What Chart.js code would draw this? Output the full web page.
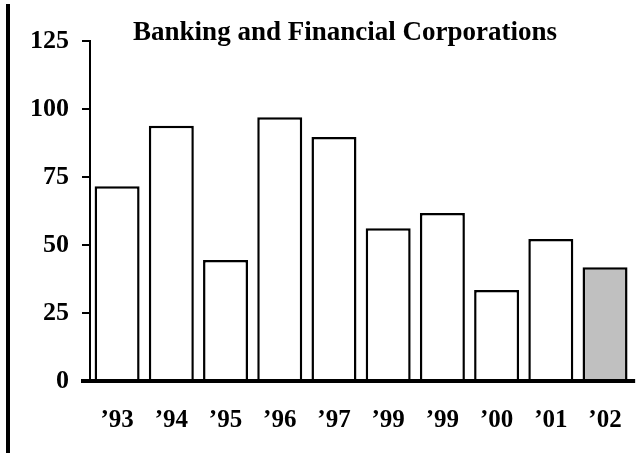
<!DOCTYPE html>
<html>
<head>
<meta charset="utf-8">
<script src="https://cdn.jsdelivr.net/npm/chart.js@4/dist/chart.umd.min.js"></script>
<style>
html,body{margin:0;padding:0;background:#fff;}
#wrap{width:639px;height:455px;position:relative;}
</style>
</head>
<body>
<div id="wrap"><canvas id="c" width="639" height="455"></canvas></div>
<script>
const categories = ["\u201993","\u201994","\u201995","\u201996","\u201997","\u201999","\u201999","\u201900","\u201901","\u201902"];
const values = [71.6, 93.8, 44.5, 97.0, 89.7, 56.2, 61.8, 33.5, 52.2, 41.8];
const fillColors = ["#ffffff","#ffffff","#ffffff","#ffffff","#ffffff","#ffffff","#ffffff","#ffffff","#ffffff","#c0c0c0"];
const yTicks = [0, 25, 50, 75, 100, 125];
const titleText = "Banking and Financial Corporations";

const FONT = "'Liberation Serif','Times New Roman',serif";

const decor = {
  id: 'decor',
  afterDraw(chart) {
    const ctx = chart.ctx;
    const x = chart.scales.x, y = chart.scales.y;
    const y0 = y.getPixelForValue(0);
    ctx.save();
    ctx.fillStyle = '#000';
    ctx.fillRect(6, 4, 4, 449);
    ctx.fillRect(x.left - 9, y0 - 2, x.right - x.left + 12, 4);
    ctx.font = "bold 27px " + FONT;
    ctx.textAlign = 'center';
    ctx.textBaseline = 'alphabetic';
    ctx.fillText(titleText, 345, 40);
    ctx.restore();
  }
};

new Chart(document.getElementById('c'), {
  type: 'bar',
  data: {
    labels: categories,
    datasets: [{
      data: values,
      backgroundColor: fillColors,
      borderColor: '#000',
      borderWidth: 2.5,
      borderSkipped: 'bottom',
      categoryPercentage: 1.0,
      barPercentage: 0.83
    }]
  },
  options: {
    responsive: false,
    animation: false,
    layout: { padding: { left: 0, right: 6, top: 41, bottom: 0 } },
    plugins: { legend: { display: false }, title: { display: false }, tooltip: { enabled: false } },
    scales: {
      x: {
        grid: { display: false },
        border: { display: false },
        ticks: { color: '#000', padding: 17, font: { family: FONT, size: 25, weight: 'bold' }, maxRotation: 0, autoSkip: false },
        afterFit(s) { s.height = 74; }
      },
      y: {
        min: 0, max: 125,
        afterBuildTicks(s) { s.ticks = yTicks.map(v => ({ value: v })); },
        grid: { drawOnChartArea: false, drawTicks: true, tickLength: 8, color: '#000', lineWidth: 2 },
        border: { display: true, color: '#000', width: 2 },
        ticks: { color: '#000', padding: 13, font: { family: FONT, size: 26, weight: 'bold' } },
        afterFit(s) { s.width = 90; }
      }
    }
  },
  plugins: [decor]
});
</script>
</body>
</html>
